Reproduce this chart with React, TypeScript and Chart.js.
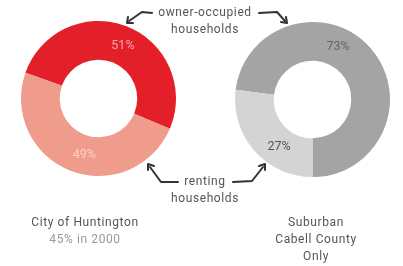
import React, { useEffect, useRef } from "react";
import { Chart, registerables } from "chart.js";

Chart.register(...registerables);

const categories = ["owner-occupied households", "renting households"];
const huntingtonValues = [51, 49];
const suburbanValues = [73, 27];
const huntingtonLabels = ["51%", "49%"];
const suburbanLabels = ["73%", "27%"];

const FONT = "Roboto, 'Open Sans', sans-serif";

const labelPlugin = {
  id: "arcLabels",
  afterDatasetsDraw(chart: any, _args: any, opts: any) {
    const meta = chart.getDatasetMeta(0);
    const ctx = chart.ctx;
    ctx.save();
    ctx.font = `12.5px ${FONT}`;
    ctx.textAlign = "center";
    ctx.textBaseline = "middle";
    meta.data.forEach((arc: any, i: number) => {
      const p = arc.getProps(["x", "y", "startAngle", "endAngle", "innerRadius", "outerRadius"], true);
      const f = opts.fractions[i];
      const a = p.startAngle + f * (p.endAngle - p.startAngle);
      const r = (p.innerRadius + p.outerRadius) / 2;
      ctx.fillStyle = opts.colors[i];
      ctx.fillText(opts.labels[i], p.x + Math.cos(a) * r, p.y + Math.sin(a) * r);
    });
    ctx.restore();
  },
};

function Donut({
  values,
  colors,
  rotation,
  labels,
  labelColors,
  fractions,
  style,
}: any) {
  const ref = useRef<HTMLCanvasElement>(null);
  useEffect(() => {
    if (!ref.current) return;
    const chart = new Chart(ref.current, {
      type: "doughnut",
      data: {
        labels: categories,
        datasets: [
          {
            data: values,
            backgroundColor: colors,
            borderWidth: 0,
          },
        ],
      },
      options: {
        animation: false,
        responsive: false,
        cutout: "50%",
        rotation,
        layout: { padding: 0 },
        plugins: {
          legend: { display: false },
          tooltip: { enabled: false },
          arcLabels: { labels, colors: labelColors, fractions },
        } as any,
      },
      plugins: [labelPlugin],
    });
    return () => chart.destroy();
  }, []);
  return <canvas ref={ref} width={155} height={155} style={{ position: "absolute", ...style }} />;
}

const textStyle: React.CSSProperties = {
  position: "absolute",
  fontFamily: FONT,
  fontSize: 12,
  letterSpacing: "0.6px",
  color: "#555",
  textAlign: "center",
  lineHeight: "17px",
  whiteSpace: "nowrap",
};

export default function App() {
  return (
    <div
      style={{
        position: "fixed",
        left: 0,
        top: 0,
        width: 403,
        height: 266,
        background: "#fff",
        overflow: "hidden",
      }}
    >
      <Donut
        values={huntingtonValues}
        colors={["#e3202a", "#f09c8c"]}
        rotation={-70.6}
        labels={huntingtonLabels}
        labelColors={["#f6a5a5", "#f9cfc6"]}
        fractions={[0.52, 0.46]}
        style={{ left: 21, top: 21 }}
      />
      <Donut
        values={suburbanValues}
        colors={["#a4a4a4", "#d4d4d4"]}
        rotation={-82.8}
        labels={suburbanLabels}
        labelColors={["#666", "#555"]}
        fractions={[0.414, 0.36]}
        style={{ left: 235, top: 22 }}
      />
      <svg
        width={403}
        height={266}
        style={{ position: "absolute", left: 0, top: 0 }}
      >
        <g fill="none" stroke="#333" strokeWidth={2} strokeLinecap="round" strokeLinejoin="round">
          <path d="M152 13 L142 12 L129 21" />
          <path d="M127 23 L128 17 M127 23 L133 23" />
          <path d="M259 13 L277 12 L285 21" />
          <path d="M287 23 L286 17 M287 23 L281 22" />
          <path d="M178 182 L161 182 L150 167" />
          <path d="M148 164 L148 170 M148 164 L154 166" />
          <path d="M233 182 L252 181 L263 167" />
          <path d="M265 164 L259 166 M265 164 L265 170" />
        </g>
      </svg>
      <div style={{ ...textStyle, left: 205, top: 4, transform: "translateX(-50%)" }}>
        owner-occupied
        <br />
        households
      </div>
      <div style={{ ...textStyle, left: 205, top: 173, transform: "translateX(-50%)" }}>
        renting
        <br />
        households
      </div>
      <div style={{ ...textStyle, left: 85, top: 214, transform: "translateX(-50%)" }}>
        City of Huntington
        <br />
        <span style={{ color: "#999" }}>45% in 2000</span>
      </div>
      <div style={{ ...textStyle, left: 316, top: 214, transform: "translateX(-50%)" }}>
        Suburban
        <br />
        Cabell County
        <br />
        Only
      </div>
    </div>
  );
}
